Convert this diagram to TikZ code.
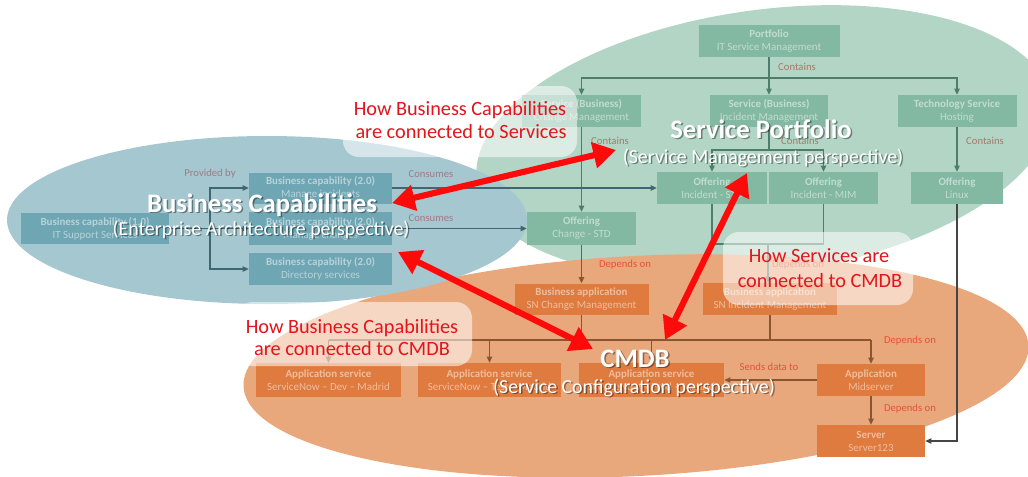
\documentclass[tikz,border=0pt]{standalone}
\usepackage{fontspec}
\setmainfont{Carlito}
\usetikzlibrary{arrows.meta}
\definecolor{ellG}{HTML}{B2D5C5}
\definecolor{ellB}{HTML}{A4C7D0}
\definecolor{ellO}{HTML}{E9A77C}
\definecolor{boxG}{HTML}{83B9A3}
\definecolor{boxB}{HTML}{6FA6B4}
\definecolor{boxO}{HTML}{DF7B3E}
\definecolor{lineG}{HTML}{4E7E6B}
\definecolor{lineB}{HTML}{3F6671}
\definecolor{lineO}{HTML}{8A5632}
\definecolor{lineK}{HTML}{454545}
\definecolor{lblG}{HTML}{AD766B}
\definecolor{lblB}{HTML}{9C7D88}
\definecolor{lblO}{HTML}{E4533A}
\definecolor{redA}{HTML}{FF0A0A}
\definecolor{redT}{HTML}{E3141C}
\begin{document}
\begin{tikzpicture}[x=0.75pt,y=-0.75pt,
  cbox/.style={inner sep=0pt, align=center, text=white, text opacity=0.5, font=\fontsize{8.2}{9.8}\selectfont},
  gbox/.style={cbox, fill=boxG},
  bbox/.style={cbox, fill=boxB},
  obox/.style={cbox, fill=boxO},
  sz/.style 2 args={minimum width=#1*0.75pt, minimum height=#2*0.75pt},
  tip/.style={-{Triangle[length=4.5pt,width=4pt]}},
  gl/.style={draw=lineG, line width=0.9pt},
  bl/.style={draw=lineB, line width=0.9pt},
  ol/.style={draw=lineO, line width=0.9pt},
  kl/.style={draw=lineK, line width=0.9pt},
  clbl/.style={inner sep=0pt, font=\fontsize{8}{9.6}\selectfont},
  ttl/.style={inner sep=0pt, anchor=base, text=white, font=\bfseries\fontsize{20}{24}\selectfont},
  sub/.style={inner sep=0pt, anchor=base, text=white, font=\fontsize{14.9}{18}\selectfont},
  shd/.style={text=black, text opacity=0.4},
  rlbl/.style={inner sep=0pt, anchor=base, text=redT, font=\fontsize{15.2}{18}\selectfont},
  halo/.style={fill=white, fill opacity=0.55, rounded corners=12pt},
  redarrow/.style={draw=redA, line width=4.6pt, {Triangle[length=17pt,width=19pt]}-{Triangle[length=17pt,width=19pt]}}
]
\useasboundingbox (0,0) rectangle (1028,476);
\clip (0,0) rectangle (1028,476);

% ellipses
\fill[ellG, rotate around={8:(764,142)}] (764,142) ellipse [x radius=290, y radius=132];
\fill[ellO, rotate around={3:(636,366)}] (636,366) ellipse [x radius=393, y radius=110];
\fill[ellB] (267,220) ellipse [x radius=260, y radius=84];

% green boxes
\node[gbox, sz={141}{32}] (port) at (769,41) {\textbf{Portfolio}\\IT Service Management};
\node[gbox, sz={119}{32}] (schg) at (581.5,111) {\textbf{Service (Business)}\\Change Management};
\node[gbox, sz={118}{32}] (sinc) at (769,111) {\textbf{Service (Business)}\\Incident Management};
\node[gbox, sz={119}{32}] (tech) at (957,111) {\textbf{Technology Service}\\Hosting};
\node[gbox, sz={110}{32}] (oinc) at (712,188) {\textbf{Offering}\\Incident - STD};
\node[gbox, sz={109}{32}] (omim) at (823.5,188) {\textbf{Offering}\\Incident - MIM};
\node[gbox, sz={92}{32}] (olin) at (957,188) {\textbf{Offering}\\Linux};
\node[gbox, sz={109}{33}] (ochg) at (581.5,228.5) {\textbf{Offering}\\Change - STD};

% blue boxes
\node[bbox, sz={148}{31}] (bc1) at (95,228.5) {\textbf{Business capability (1.0)}\\IT Support Services};
\node[bbox, sz={143}{31}] (bc2a) at (320.5,188) {\textbf{Business capability (2.0)}\\Manage incidents};
\node[bbox, sz={143}{33}] (bc2b) at (320.5,228.5) {\textbf{Business capability (2.0)}\\Manage changes};
\node[bbox, sz={143}{32}] (bc2c) at (320.5,269) {\textbf{Business capability (2.0)}\\Directory services};

% orange boxes
\node[obox, sz={134}{31}] (bachg) at (581.5,299) {\textbf{Business application}\\SN Change Management};
\node[obox, sz={134}{32}] (bainc) at (770,299) {\textbf{Business application}\\SN Incident Management};
\node[obox, sz={145}{34}] (as1) at (328.5,380) {\textbf{Application service}\\ServiceNow -- Dev -- Madrid};
\node[obox, sz={143}{34}] (as2) at (489.5,380) {\textbf{Application service}\\ServiceNow -- Test -- Madrid};
\node[obox, sz={145}{34}] (as3) at (651.5,380) {\textbf{Application service}\\ServiceNow -- Prod -- Madrid};
\node[obox, sz={108}{32}] (mid) at (871,380) {\textbf{Application}\\Midserver};
\node[obox, sz={108}{32}] (srv) at (871,441) {\textbf{Server}\\Server123};

% green connectors
\coordinate (j1) at (769,78);
\draw[gl] (port.south) -- (j1);
\draw[gl,tip] (j1) -| (schg.north);
\draw[gl,tip] (j1) -| (tech.north);
\draw[gl,tip] (j1) -- (sinc.north);
\node[clbl, text=lblG] (c1) at (797,67) {Contains};
\draw[gl,tip] (schg.south) -- (ochg.north);
\node[clbl, text=lblG] (c2) at (610,141) {Contains};
\coordinate (j2) at (769,150);
\draw[gl] (sinc.south) -- (j2);
\draw[gl,tip] (j2) -| (oinc.north);
\draw[gl,tip] (j2) -| (omim.north);
\node[clbl, text=lblG] (c3) at (800,141) {Contains};
\draw[gl,tip] (tech.south) -- (olin.north);
\node[clbl, text=lblG] (c4) at (985,141) {Contains};
\coordinate (j4) at (768,244);
\draw[gl] (oinc.south) |- (j4) -| (omim.south);
\draw[gl,tip] (j4) -- (j4 |- bainc.north);
\node[clbl, text=lblO] (d1) at (798,265) {Depends on};
\draw[ol,tip] (ochg.south) -- (bachg.north);
\node[clbl, text=lblO] (d2) at (625,265) {Depends on};
\draw[kl,tip] (olin.south) |- (srv.east);

% blue connectors
\coordinate (j5) at (210,228.5);
\draw[bl] (bc1.east) -- (j5);
\draw[bl,tip] (j5) |- (bc2a.west);
\draw[bl,tip] (j5) -- (bc2b.west);
\draw[bl,tip] (j5) |- (bc2c.west);
\node[clbl, text=lblB] (p1) at (210,174) {Provided by};
\draw[bl,tip] (bc2a.east) -- (oinc.west);
\draw[bl,tip] (bc2b.east) -- (ochg.west);
\node[clbl, text=lblB] (k1) at (431,174) {Consumes};
\node[clbl, text=lblB] (k2) at (431,218) {Consumes};

% orange connectors
\coordinate (hL) at (328.5,340);
\coordinate (hR) at (871,340);
\draw[ol] (hL) -- (hR);
\draw[ol] (bachg.south) -- (bachg.south |- hL);
\draw[ol] (bainc.south) -- (bainc.south |- hL);
\draw[ol,tip] (hL) -- (as1.north);
\draw[ol,tip] (as2.north |- hL) -- (as2.north);
\draw[ol,tip] (as3.north |- hL) -- (as3.north);
\draw[ol,tip] (hR) -- (mid.north);
\node[clbl, text=lblO] (d3) at (910,341) {Depends on};
\draw[ol,tip] (mid.west) -- (as3.east);
\node[clbl, text=lblO] (s1) at (769,367) {Sends data to};
\draw[ol,tip] (mid.south) -- (srv.north);
\node[clbl, text=lblO] (d4) at (910,409) {Depends on};

% titles
\node[ttl, shd] (t1s) at (263.5,213.5) {Business Capabilities};
\node[ttl] (t1) at (262,212) {Business Capabilities};
\node[sub, shd] (u1s) at (262.5,236.5) {(Enterprise Architecture perspective)};
\node[sub] (u1) at (261,235) {(Enterprise Architecture perspective)};
\node[ttl, shd] (t2s) at (762.5,139.5) {Service Portfolio};
\node[ttl] (t2) at (761,138) {Service Portfolio};
\node[sub, shd] (u2s) at (764.5,164.5) {(Service Management perspective)};
\node[sub] (u2) at (763,163) {(Service Management perspective)};
\node[ttl, shd] (t3s) at (636.5,368.5) {CMDB};
\node[ttl] (t3) at (635,367) {CMDB};
\node[sub, shd] (u3s) at (635.5,394.5) {(Service Configuration perspective)};
\node[sub] (u3) at (634,393) {(Service Configuration perspective)};

% halos
\fill[halo] (343,86) rectangle (577,157);
\fill[halo] (723,232) rectangle (913,305);
\fill[halo] (237,302) rectangle (472,366);

% red labels
\node[rlbl] (h1a) at (460,115) {How Business Capabilities};
\node[rlbl] (h1b) at (461,138) {are connected to Services};
\node[rlbl] (h2a) at (819,262) {How Services are};
\node[rlbl] (h2b) at (820,287) {connected to CMDB};
\node[rlbl] (h3a) at (352,333) {How Business Capabilities};
\node[rlbl] (h3b) at (352,355) {are connected to CMDB};

% red arrows
\coordinate (r1a) at (392,203);
\coordinate (r1b) at (616,150);
\coordinate (r2a) at (398,252);
\coordinate (r2b) at (593,349);
\coordinate (r3a) at (747,173);
\coordinate (r3b) at (665,340);
\draw[redarrow] (r1a) -- (r1b);
\draw[redarrow] (r2a) -- (r2b);
\draw[redarrow] (r3a) -- (r3b);
\end{tikzpicture}
\end{document}
